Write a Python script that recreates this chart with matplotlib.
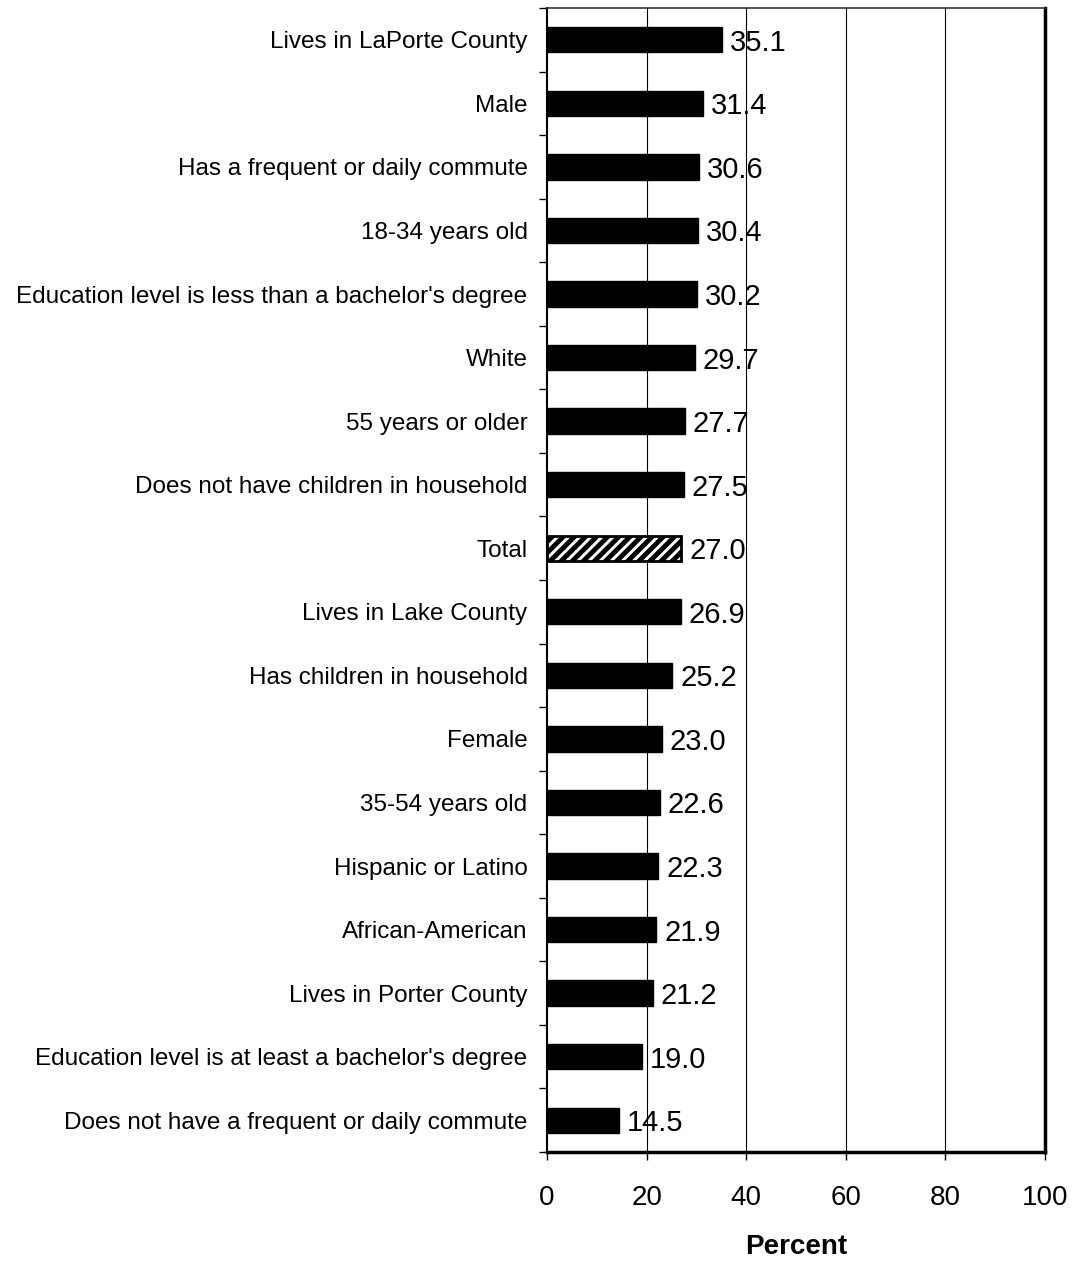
import matplotlib
matplotlib.use("Agg")
import matplotlib.pyplot as plt
import numpy as np

plt.rcParams['font.family'] = ['Liberation Sans', 'DejaVu Sans']
plt.rcParams['hatch.linewidth'] = 3.5

categories = [
    "Lives in LaPorte County",
    "Male",
    "Has a frequent or daily commute",
    "18-34 years old",
    "Education level is less than a bachelor's degree",
    "White",
    "55 years or older",
    "Does not have children in household",
    "Total",
    "Lives in Lake County",
    "Has children in household",
    "Female",
    "35-54 years old",
    "Hispanic or Latino",
    "African-American",
    "Lives in Porter County",
    "Education level is at least a bachelor's degree",
    "Does not have a frequent or daily commute",
]
values = [35.1, 31.4, 30.6, 30.4, 30.2, 29.7, 27.7, 27.5, 27.0, 26.9,
          25.2, 23.0, 22.6, 22.3, 21.9, 21.2, 19.0, 14.5]
xticks = [0, 20, 40, 60, 80, 100]

fig = plt.figure(figsize=(10.73, 12.62), dpi=100)
ax = fig.add_axes([547/1073, 1 - 1152/1262, (1045-547)/1073, (1152-8)/1262])

n = len(categories)
y = np.arange(n)
for i, (c, v) in enumerate(zip(categories, values)):
    if c == "Total":
        ax.barh(i, v, height=0.4, color='white', edgecolor='black',
                hatch='///', linewidth=2, zorder=3)
    else:
        ax.barh(i, v, height=0.4, color='black', edgecolor='black', zorder=3)
    ax.text(v + 1.6, i, f"{v:.1f}", va='center_baseline', ha='left', fontsize=21, zorder=4)

ax.set_ylim(n - 0.5, -0.5)
ax.set_xlim(0, 100)
ax.set_yticks(y)
ax.set_yticklabels(categories, fontsize=17.5)
ax.set_yticks(np.arange(-0.5, n, 1), minor=True)
ax.tick_params(axis='y', which='major', length=0, pad=14)
ax.tick_params(axis='y', which='minor', length=6, width=1, direction='out')
ax.set_xticks(xticks)
ax.set_xticklabels([str(t) for t in xticks], fontsize=20)
ax.tick_params(axis='x', which='major', length=6, width=1, direction='out', pad=18)

for t in xticks[1:-1]:
    ax.axvline(t, color='black', linewidth=0.8, zorder=1)

ax.spines['left'].set_linewidth(1.5)
ax.spines['bottom'].set_linewidth(2.5)
ax.spines['right'].set_linewidth(2.5)
ax.spines['top'].set_linewidth(1.2)
ax.spines['top'].set_color('#333333')

ax.set_xlabel("Percent", fontsize=20, fontweight='bold', labelpad=16)

fig.savefig("out.png", dpi=100)
